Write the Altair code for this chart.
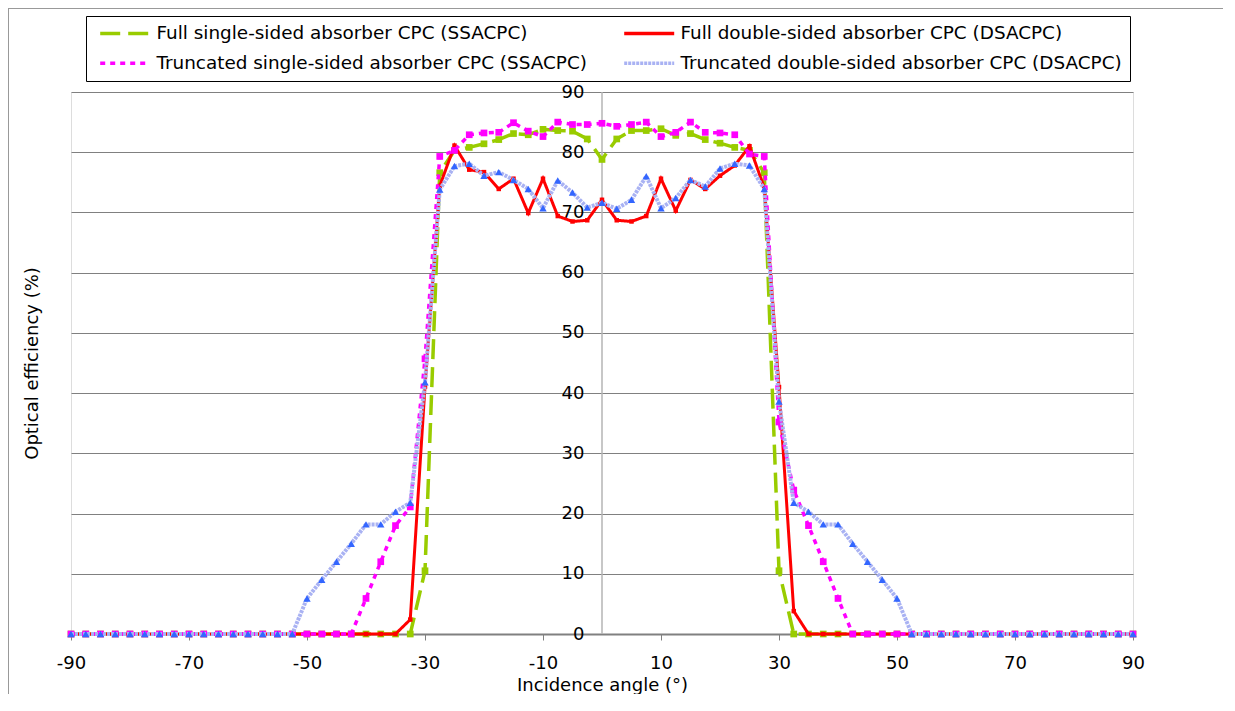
import altair as alt
import pandas as pd

# ---------------- data ----------------
angles = [-90, -87.5, -85, -82.5, -80, -77.5, -75, -72.5, -70, -67.5,
          -65, -62.5, -60, -57.5, -55, -52.5, -50, -47.5, -45, -42.5,
          -40, -37.5, -35, -32.5, -30, -27.5, -25, -22.5, -20, -17.5,
          -15, -12.5, -10, -7.5, -5, -2.5, 0, 2.5, 5, 7.5,
          10, 12.5, 15, 17.5, 20, 22.5, 25, 27.5, 30, 32.5,
          35, 37.5, 40, 42.5, 45, 47.5, 50, 52.5, 55, 57.5,
          60, 62.5, 65, 67.5, 70, 72.5, 75, 77.5, 80, 82.5,
          85, 87.5, 90]

full_ssacpc = [0, 0, 0, 0, 0, 0, 0, 0, 0, 0,
               0, 0, 0, 0, 0, 0, 0, 0, 0, 0,
               0, 0, 0, 0, 10.5, 76.6, 80.3, 80.8, 81.4, 82.1,
               83.1, 82.9, 83.8, 83.6, 83.5, 82.2, 78.8, 82.2, 83.6, 83.6,
               83.9, 82.8, 83.1, 82.1, 81.5, 80.8, 80.3, 76.6, 10.5, 0,
               0, 0, 0, 0, 0, 0, 0, 0, 0, 0,
               0, 0, 0, 0, 0, 0, 0, 0, 0, 0,
               0, 0, 0]

full_dsacpc = [0, 0, 0, 0, 0, 0, 0, 0, 0, 0,
               0, 0, 0, 0, 0, 0, 0, 0, 0, 0,
               0, 0, 0, 2.4, 41.1, 74.4, 81.1, 77.1, 76.7, 73.9,
               75.6, 69.9, 75.6, 69.4, 68.5, 68.7, 72.1, 68.7, 68.5, 69.4,
               75.6, 70.3, 75.4, 73.9, 76.1, 77.8, 81.0, 74.1, 41.0, 3.8,
               0, 0, 0, 0, 0, 0, 0, 0, 0, 0,
               0, 0, 0, 0, 0, 0, 0, 0, 0, 0,
               0, 0, 0]

trunc_ssacpc = [0, 0, 0, 0, 0, 0, 0, 0, 0, 0,
                0, 0, 0, 0, 0, 0, 0, 0, 0, 0,
                5.9, 12.0, 18.0, 21.1, 45.7, 79.3, 80.3, 82.9, 83.2, 83.3,
                84.9, 83.5, 82.6, 85.0, 84.6, 84.6, 84.8, 84.3, 84.6, 85.0,
                82.6, 83.3, 85.0, 83.3, 83.2, 82.9, 79.7, 79.3, 35.2, 23.9,
                18.0, 12.0, 5.9, 0, 0, 0, 0, 0, 0, 0,
                0, 0, 0, 0, 0, 0, 0, 0, 0, 0,
                0, 0, 0]

trunc_dsacpc = [0, 0, 0, 0, 0, 0, 0, 0, 0, 0,
                0, 0, 0, 0, 0, 0, 5.9, 9.0, 12.0, 15.0,
                18.2, 18.2, 20.3, 21.8, 41.8, 73.8, 77.7, 78.1, 76.1, 76.7,
                75.4, 73.9, 70.7, 75.3, 73.3, 70.8, 71.6, 70.6, 72.1, 76.0,
                70.7, 72.4, 75.4, 74.3, 77.3, 78.1, 77.8, 73.9, 38.6, 21.8,
                20.3, 18.2, 18.2, 15.0, 12.0, 9.0, 5.9, 0, 0, 0,
                0, 0, 0, 0, 0, 0, 0, 0, 0, 0,
                0, 0, 0]

series_names = [
    "Full single-sided absorber CPC (SSACPC)",
    "Full double-sided absorber CPC (DSACPC)",
    "Truncated single-sided absorber CPC (SSACPC)",
    "Truncated double-sided absorber CPC (DSACPC)",
]
series_values = [full_ssacpc, full_dsacpc, trunc_ssacpc, trunc_dsacpc]

x_ticks = [-90, -70, -50, -30, -10, 10, 30, 50, 70, 90]
y_ticks = [0, 10, 20, 30, 40, 50, 60, 70, 80, 90]

x_title = "Incidence angle (°)"
y_title = "Optical efficiency (%)"

# ---------------- styling ----------------
FONT = "DejaVu Sans"
FS = 18
LFS = 18.4
W, H = 1062, 542

line_colors = ["#99CC00", "#FF0000", "#FF00FF", "#A9B2F3"]
line_dashes = [[20, 8], [1, 0], [5, 5], [3, 1]]
line_widths = [3.5, 3, 3.5, 4]
marker_colors = ["#99CC00", "#FF0000", "#FF00FF", "#3366FF"]
marker_shapes = ["square", "square", "square", "triangle-up"]
marker_sizes = [45, 20, 45, 55]

rows = []
for name, vals in zip(series_names, series_values):
    for a, v in zip(angles, vals):
        rows.append({"angle": a, "value": v, "series": name})
df = pd.DataFrame(rows)

xscale = alt.Scale(domain=[-90, 90], nice=False, zero=False)
yscale = alt.Scale(domain=[0, 90], nice=False, zero=False)

xaxis = alt.Axis(values=x_ticks, grid=False, domainColor="#808080", domainWidth=2,
                 tickColor="#808080", tickSize=6, tickWidth=1, labelPadding=14,
                 labelFlush=False, labelFont=FONT, labelFontSize=FS, labelColor="black",
                 labelExpr="'' + datum.value",
                 title=x_title, titleFont=FONT, titleFontSize=FS, titleFontWeight="normal",
                 titleColor="black", titleY=51, titleBaseline="middle")

yaxis = alt.Axis(values=y_ticks, grid=True, gridColor="#808080", gridWidth=1,
                 domain=False, ticks=False, tickSize=0, labelPadding=-(W / 2 - 18),
                 labelFlush=False, labelFont=FONT, labelFontSize=FS, labelColor="black",
                 labelBaseline="middle",
                 title=y_title, titleFont=FONT, titleFontSize=FS, titleFontWeight="normal",
                 titleColor="black", titleX=-39, titleY=H / 2, titleAngle=270,
                 titleBaseline="middle", titleAlign="center")

color_scale = alt.Scale(domain=series_names, range=line_colors)
dash_scale = alt.Scale(domain=series_names, range=line_dashes)

leg = alt.Legend(title=None, orient="none", legendX=15, legendY=-76, columns=2,
                 direction="horizontal",
                 symbolType="M-5,0L5,0", symbolSize=100, symbolStrokeWidth=3.5,
                 symbolOffset=22, labelOffset=22, labelFont=FONT, labelFontSize=LFS,
                 labelColor="black", labelLimit=800, rowPadding=11, columnPadding=30,
                 padding=8, strokeColor="#000000", fillColor="white")

base = alt.Chart(df)

# outer chart frame (decoration)
frame_df = pd.DataFrame({"k": [0]})
frame_left = alt.Chart(frame_df).mark_rule(color="#999999", strokeWidth=1).encode(
    x=alt.value(-62.5), y=alt.value(-84), y2=alt.value(H + 60))
frame_top = alt.Chart(frame_df).mark_rule(color="#999999", strokeWidth=1).encode(
    x=alt.value(-63), x2=alt.value(W + 90), y=alt.value(-83.5))

center_rule = alt.Chart(frame_df).mark_rule(color="#B4B4B4", strokeWidth=1.5).encode(
    x=alt.datum(0, scale=xscale))

layers = [frame_left, frame_top, center_rule]
for i, name in enumerate(series_names):
    sub = base.transform_filter(alt.datum.series == name)
    line = sub.mark_line(strokeWidth=line_widths[i], strokeCap="butt").encode(
        x=alt.X("angle:Q", scale=xscale, axis=xaxis),
        y=alt.Y("value:Q", scale=yscale, axis=yaxis),
        color=alt.Color("series:N", scale=color_scale, legend=leg),
        strokeDash=alt.StrokeDash("series:N", scale=dash_scale, legend=leg),
    )
    pts = sub.mark_point(shape=marker_shapes[i], filled=True, size=marker_sizes[i],
                         color=marker_colors[i], opacity=1, strokeWidth=0).encode(
        x=alt.X("angle:Q", scale=xscale, axis=xaxis),
        y=alt.Y("value:Q", scale=yscale, axis=yaxis),
    )
    layers += [line, pts]

chart = alt.layer(*layers).properties(
    width=W, height=H,
    padding={"left": 63, "top": 84, "right": 90, "bottom": 60},
    autosize=alt.AutoSizeParams(type="none"),
).configure_view(stroke="#000000", strokeWidth=1).configure(background="white")

chart.save("out.html", embed_options={"renderer": "svg", "actions": False})
